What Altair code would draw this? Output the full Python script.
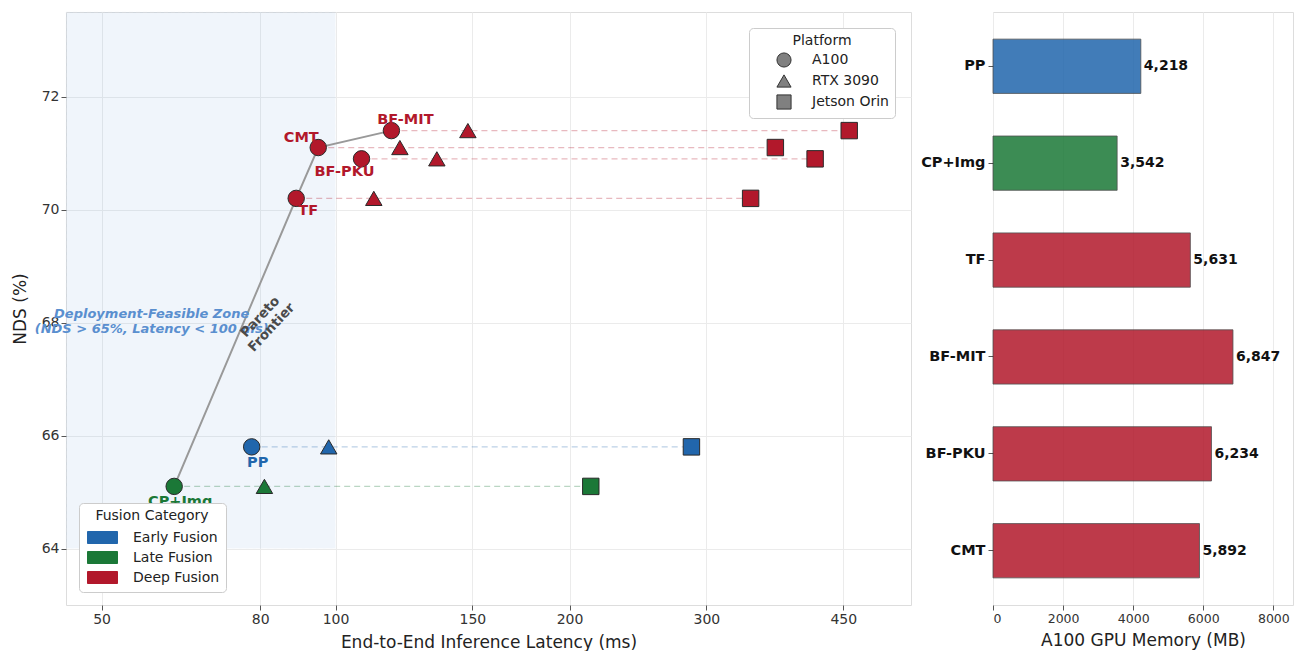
import altair as alt
import pandas as pd

# ---------------- data ----------------
models = ["PP", "CP+Img", "TF", "CMT", "BF-PKU", "BF-MIT"]
model_category = ["Early Fusion", "Late Fusion", "Deep Fusion", "Deep Fusion", "Deep Fusion", "Deep Fusion"]
nds = [65.8, 65.1, 70.2, 71.1, 70.9, 71.4]
latency_a100 = [78, 62, 89, 95, 108, 118]
latency_rtx3090 = [98, 81, 112, 121, 135, 148]
latency_orin = [287, 213, 342, 368, 414, 458]

platforms = ["A100", "RTX 3090", "Jetson Orin"]
platform_shapes = ["circle", "triangle-up", "square"]
fusion_order = ["Early Fusion", "Late Fusion", "Deep Fusion"]
fusion_colors = ["#2166ac", "#1b7837", "#b2182b"]

pareto_models = ["CP+Img", "TF", "CMT", "BF-MIT"]

memory_models = ["PP", "CP+Img", "TF", "BF-MIT", "BF-PKU", "CMT"]
memory_category = ["Early Fusion", "Late Fusion", "Deep Fusion", "Deep Fusion", "Deep Fusion", "Deep Fusion"]
memory_mb = [4218, 3542, 5631, 6847, 6234, 5892]

x_ticks = [50, 80, 100, 150, 200, 300, 450]
y_ticks = [64, 66, 68, 70, 72]
x_domain = [45, 550]
y_domain = [63, 73.5]
mem_ticks = [0, 2000, 4000, 6000, 8000]
mem_domain = [0, 8560]

zone_latency_max = 100
zone_nds_min = 64
zone_text = "Deployment-Feasible Zone\n(NDS > 65%, Latency < 100 ms)"
zone_text_pos = [58, 68.16]
pareto_text = "Pareto\nFrontier"
pareto_text_pos = [80, 68.1]

FONT = "DejaVu Sans"

# ---------------- tables ----------------
rows = []
for i, m in enumerate(models):
    for p, lat in zip(platforms, [latency_a100[i], latency_rtx3090[i], latency_orin[i]]):
        rows.append({"model": m, "category": model_category[i], "platform": p,
                     "latency": lat, "nds": nds[i]})
df_pts = pd.DataFrame(rows)

df_wide = pd.DataFrame({"model": models, "category": model_category, "nds": nds,
                        "a100": latency_a100, "orin": latency_orin})

df_pareto = df_wide[df_wide["model"].isin(pareto_models)].sort_values("a100")

df_zone = pd.DataFrame({"x0": [x_domain[0]], "x1": [zone_latency_max],
                        "y0": [zone_nds_min], "y1": [y_domain[1]]})
df_zone_text = pd.DataFrame({"x": [zone_text_pos[0]], "y": [zone_text_pos[1]], "t": [zone_text]})
df_pareto_text = pd.DataFrame({"x": [pareto_text_pos[0]], "y": [pareto_text_pos[1]], "t": [pareto_text]})

df_mem = pd.DataFrame({"model": memory_models, "category": memory_category, "memory": memory_mb})

# ---------------- encodings ----------------
xscale = alt.Scale(type="log", domain=x_domain, nice=False)
yscale = alt.Scale(domain=y_domain, nice=False, zero=False)

x_axis = alt.Axis(values=x_ticks, format="d", title="End-to-End Inference Latency (ms)",
                  labelFontSize=14, titleFontSize=17, titleFontWeight="normal",
                  labelColor="#333", titleColor="#222", tickColor="#555", tickSize=5,
                  gridColor="#ebebeb", domain=False, titlePadding=8)
y_axis = alt.Axis(values=y_ticks, title="NDS (%)", labelFontSize=14, titleFontSize=17,
                  titleFontWeight="normal", labelColor="#333", titleColor="#222",
                  tickColor="#555", tickSize=5, gridColor="#ebebeb", domain=False,
                  titlePadding=12)

color_legend = alt.Legend(title="Fusion Category", orient="bottom-left", offset=13,
                          symbolType="M-1.5,-0.6H1.5V0.6H-1.5Z", symbolSize=400,
                          symbolStrokeColor="#333", symbolStrokeWidth=1, symbolOpacity=1,
                          symbolOffset=7,
                          fillColor="white", strokeColor="#cccccc", padding=6,
                          cornerRadius=4, titleFontSize=14, titleFontWeight="normal",
                          labelFontSize=14, titleColor="#222", labelColor="#222",
                          titleAnchor="middle", labelOffset=20, rowPadding=1,
                          titlePadding=4)
color_enc = alt.Color("category:N", scale=alt.Scale(domain=fusion_order, range=fusion_colors),
                      legend=color_legend)

shape_legend = alt.Legend(title="Platform", orient="top-right", offset=16,
                          symbolFillColor="#808080", symbolStrokeColor="#333",
                          symbolStrokeWidth=1, symbolSize=200, symbolOpacity=1,
                          fillColor="white", strokeColor="#cccccc", padding=6,
                          symbolOffset=21,
                          cornerRadius=4, titleFontSize=14, titleFontWeight="normal",
                          labelFontSize=14, titleColor="#222", labelColor="#222",
                          titleAnchor="middle", labelOffset=20, rowPadding=2,
                          titlePadding=4)

X = lambda f: alt.X(f, type="quantitative", scale=xscale, axis=x_axis)
Y = lambda f: alt.Y(f, type="quantitative", scale=yscale, axis=y_axis)

zone = alt.Chart(df_zone).mark_rect(fill="#4a90d9", opacity=0.08, stroke="#c9dbee",
                                    strokeDash=[4, 3], strokeWidth=1).encode(
    x=X("x0"), x2="x1", y=Y("y0"), y2="y1")

dashes = alt.Chart(df_wide).mark_rule(strokeDash=[6, 4], strokeWidth=1.3, opacity=0.3).encode(
    x=X("a100"), x2="orin", y=Y("nds"), color=color_enc)

pareto = alt.Chart(df_pareto).mark_line(color="#999999", strokeWidth=2).encode(
    x=X("a100"), y=Y("nds"), order="a100:Q")

points = alt.Chart(df_pts).mark_point(filled=True, size=270, stroke="#2a2a2a",
                                      strokeWidth=1, opacity=1).encode(
    x=X("latency"), y=Y("nds"), color=color_enc,
    shape=alt.Shape("platform:N", scale=alt.Scale(domain=platforms, range=platform_shapes),
                    legend=shape_legend),
    stroke=alt.value("#2a2a2a"))

label_offsets = {"PP": (6, 16), "CP+Img": (6, 16), "TF": (12, 13), "CMT": (-17, -10),
                 "BF-PKU": (-17, 13), "BF-MIT": (14, -11)}
labels = []
for m, (ddx, ddy) in label_offsets.items():
    labels.append(
        alt.Chart(df_wide).transform_filter(alt.datum.model == m)
        .mark_text(fontSize=14.5, fontWeight="bold", dx=ddx, dy=ddy, font=FONT)
        .encode(x=X("a100"), y=Y("nds"), text="model:N", color=color_enc)
    )

zone_label = alt.Chart(df_zone_text).mark_text(
    fontSize=13, fontWeight="bold", fontStyle="italic", color="#5a8fcf", lineBreak="\n",
    align="center", baseline="middle", font=FONT).encode(x=X("x"), y=Y("y"), text="t:N")

pareto_label = alt.Chart(df_pareto_text).mark_text(
    fontSize=13.5, fontWeight="bold", color="#4a4a4a", lineBreak="\n", angle=313,
    align="center", baseline="middle", font=FONT).encode(x=X("x"), y=Y("y"), text="t:N")

left = alt.layer(zone, dashes, pareto, points, *labels, zone_label, pareto_label).properties(
    width=845, height=593)

# ---------------- right panel ----------------
bar_y = alt.Y("model:N", sort=memory_models,
              scale=alt.Scale(paddingInner=0.44, paddingOuter=0.28),
              axis=alt.Axis(title=None, labelFontSize=14.5, labelFontWeight="bold",
                            labelColor="#111", tickColor="#555", tickSize=5,
                            labelPadding=3, grid=False, domain=False))
bar_x = alt.X("memory:Q", scale=alt.Scale(domain=mem_domain, nice=False),
              axis=alt.Axis(values=mem_ticks, format="d", title="A100 GPU Memory (MB)",
                            labelFontSize=12.5, titleFontSize=17, titleFontWeight="normal",
                            labelColor="#333", titleColor="#222", tickColor="#555",
                            tickSize=5, gridColor="#ebebeb", domain=False, titlePadding=8))
bar_color = alt.Color("category:N", scale=alt.Scale(domain=fusion_order, range=fusion_colors),
                      legend=None)

bars = alt.Chart(df_mem).mark_bar(opacity=0.85, stroke="#333", strokeWidth=0.8).encode(
    x=bar_x, y=bar_y, color=bar_color)
bar_text = alt.Chart(df_mem).mark_text(align="left", dx=3, fontSize=14, fontWeight="bold",
                                       color="#111", font=FONT).encode(
    x=alt.X("memory:Q", scale=alt.Scale(domain=mem_domain, nice=False)),
    y=alt.Y("model:N", sort=memory_models), text=alt.Text("memory:Q", format=","))

right = alt.layer(bars, bar_text).properties(width=300, height=593)

chart = alt.hconcat(left, right, spacing=8).resolve_scale(
    color="independent", shape="independent"
).resolve_legend(color="independent", shape="independent").properties(
    padding={"left": 2, "top": 3, "right": 0, "bottom": 0}
).configure_view(stroke="#dddddd").configure(font=FONT)

chart.save("out.html", embed_options={"renderer": "svg", "actions": False})
